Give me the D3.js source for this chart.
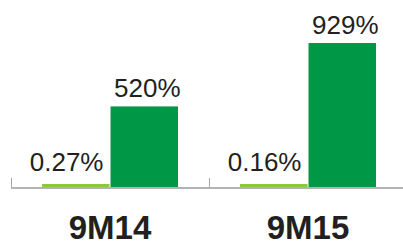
<!DOCTYPE html>
<html>
<head>
<meta charset="utf-8">
<script src="https://cdn.jsdelivr.net/npm/d3@7"></script>
<style>
  body { margin: 0; background: #fff; }
  text { font-family: "Liberation Sans", Arial, sans-serif; fill: #231f20; }
</style>
</head>
<body>
<div id="chart"></div>
<script>
var categories = ["9M14", "9M15"];
var seriesNames = ["ratio", "coverage"];
var ratioValues = [0.27, 0.16];
var coverageValues = [520, 929];
var ratioLabels = ["0.27%", "0.16%"];
var coverageLabels = ["520%", "929%"];
var colors = ["#8dc63f", "#009846"];

var width = 403, height = 246;
var baseY = 187;

var svg = d3.select("#chart").append("svg")
    .attr("width", width)
    .attr("height", height);

var x0 = d3.scaleBand().domain(categories).range([11, 407]).padding(0);
var x1 = d3.scaleBand().domain(seriesNames).range([31, 167]).paddingInner(0.015);
var y = d3.scaleLinear().domain([0, 1000]).range([baseY, 32]);

var rows = categories.map(function(c, i) {
  return {cat: c, vals: [
    {s: "ratio", v: ratioValues[i], label: ratioLabels[i], color: colors[0]},
    {s: "coverage", v: coverageValues[i], label: coverageLabels[i], color: colors[1]}
  ]};
});

// axis line + boundary ticks
svg.append("line")
    .attr("x1", x0.range()[0]).attr("x2", width)
    .attr("y1", baseY + 1).attr("y2", baseY + 1)
    .attr("stroke", "#b3b3b3").attr("stroke-width", 2);

svg.selectAll("line.tick")
    .data(categories)
    .enter().append("line")
    .attr("class", "tick")
    .attr("x1", function(d) { return x0(d) + 0.5; })
    .attr("x2", function(d) { return x0(d) + 0.5; })
    .attr("y1", baseY - 9).attr("y2", baseY)
    .attr("stroke", "#a6a6a6").attr("stroke-width", 1);

var groups = svg.selectAll("g.group")
    .data(rows)
    .enter().append("g")
    .attr("class", "group")
    .attr("transform", function(d) { return "translate(" + x0(d.cat) + ",0)"; });

// tiny ratio bars get a minimum visible height
groups.selectAll("rect")
    .data(function(d) { return d.vals; })
    .enter().append("rect")
    .attr("x", function(d) { return x1(d.s); })
    .attr("width", x1.bandwidth())
    .attr("y", function(d) { return baseY - Math.max(baseY - y(d.v), 3); })
    .attr("height", function(d) { return Math.max(baseY - y(d.v), 3); })
    .attr("fill", function(d) { return d.color; });

groups.selectAll("text.val")
    .data(function(d) { return d.vals; })
    .enter().append("text")
    .attr("class", "val")
    .attr("font-size", 26)
    .attr("text-anchor", function(d) { return d.s == "ratio" ? "end" : "middle"; })
    .attr("x", function(d) {
      return d.s == "ratio" ? x1(d.s) + x1.bandwidth() - 6 : x1(d.s) + x1.bandwidth() / 2 + 3;
    })
    .attr("y", function(d) { return d.s == "ratio" ? baseY - 16 : y(d.v) - 9; })
    .text(function(d) { return d.label; });

svg.selectAll("text.cat")
    .data(categories)
    .enter().append("text")
    .attr("class", "cat")
    .attr("x", function(d) { return x0(d) + x0.bandwidth() / 2; })
    .attr("y", 239)
    .attr("text-anchor", "middle")
    .attr("font-size", 33)
    .attr("font-weight", "bold")
    .text(function(d) { return d; });
</script>
</body>
</html>
